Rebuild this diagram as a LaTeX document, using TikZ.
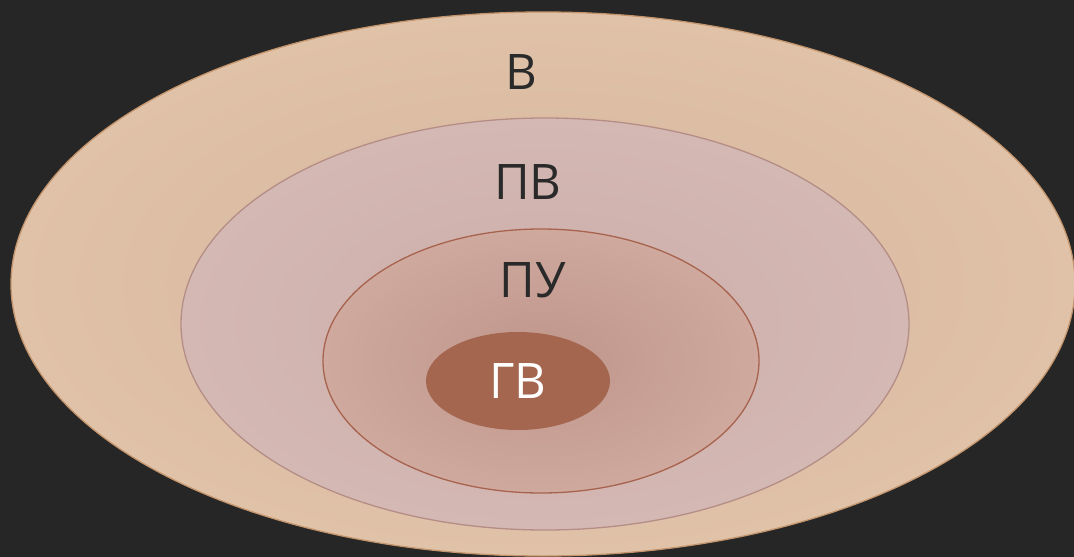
\documentclass[tikz,border=0pt]{standalone}
\usepackage{fontspec}
\setmainfont{Open Sans}
\usepackage{tikz}
\usetikzlibrary{positioning}

\definecolor{bgdark}{HTML}{262626}
\definecolor{inkdark}{HTML}{2A2A2A}
\definecolor{sandedge}{HTML}{E0C2A8}
\definecolor{sandmid}{HTML}{D6B69C}
\definecolor{sandline}{HTML}{C4956C}
\definecolor{roseedge}{HTML}{D4B8B4}
\definecolor{rosemid}{HTML}{CCAEA9}
\definecolor{roseline}{HTML}{B48E86}
\definecolor{clayedge}{HTML}{CFA99E}
\definecolor{claymid}{HTML}{BF958A}
\definecolor{clayline}{HTML}{A8634E}
\definecolor{corefill}{HTML}{A4664F}

\begin{document}
\begin{tikzpicture}[x=1pt, y=-1pt,
  ring/.style={line width=1.3pt},
  label/.style={font=\fontsize{49}{49}\selectfont, text=inkdark, inner sep=0pt}]
% background and frame
\fill[bgdark] (0,0) rectangle (1074,557);
\useasboundingbox (0,0) rectangle (1074,557);
\clip (0,0) rectangle (1074,557);

% nested sets
\draw[ring, draw=sandline, inner color=sandmid, outer color=sandedge]
    (543,284) ellipse [x radius=532, y radius=272];
\draw[ring, draw=roseline, inner color=rosemid, outer color=roseedge]
    (545,324) ellipse [x radius=364, y radius=206];
\draw[ring, draw=clayline, inner color=claymid, outer color=clayedge]
    (541,361) ellipse [x radius=218, y radius=132];
\fill[corefill] (518,381) ellipse [x radius=92, y radius=49];

% labels
\node[label] (v) at (521,72) {В};
\node[label] (pv) at (528,182) {ПВ};
\node[label] (pu) at (533,280) {ПУ};
\node[label, text=white] (gv) at (518,381) {ГВ};
\end{tikzpicture}
\end{document}
